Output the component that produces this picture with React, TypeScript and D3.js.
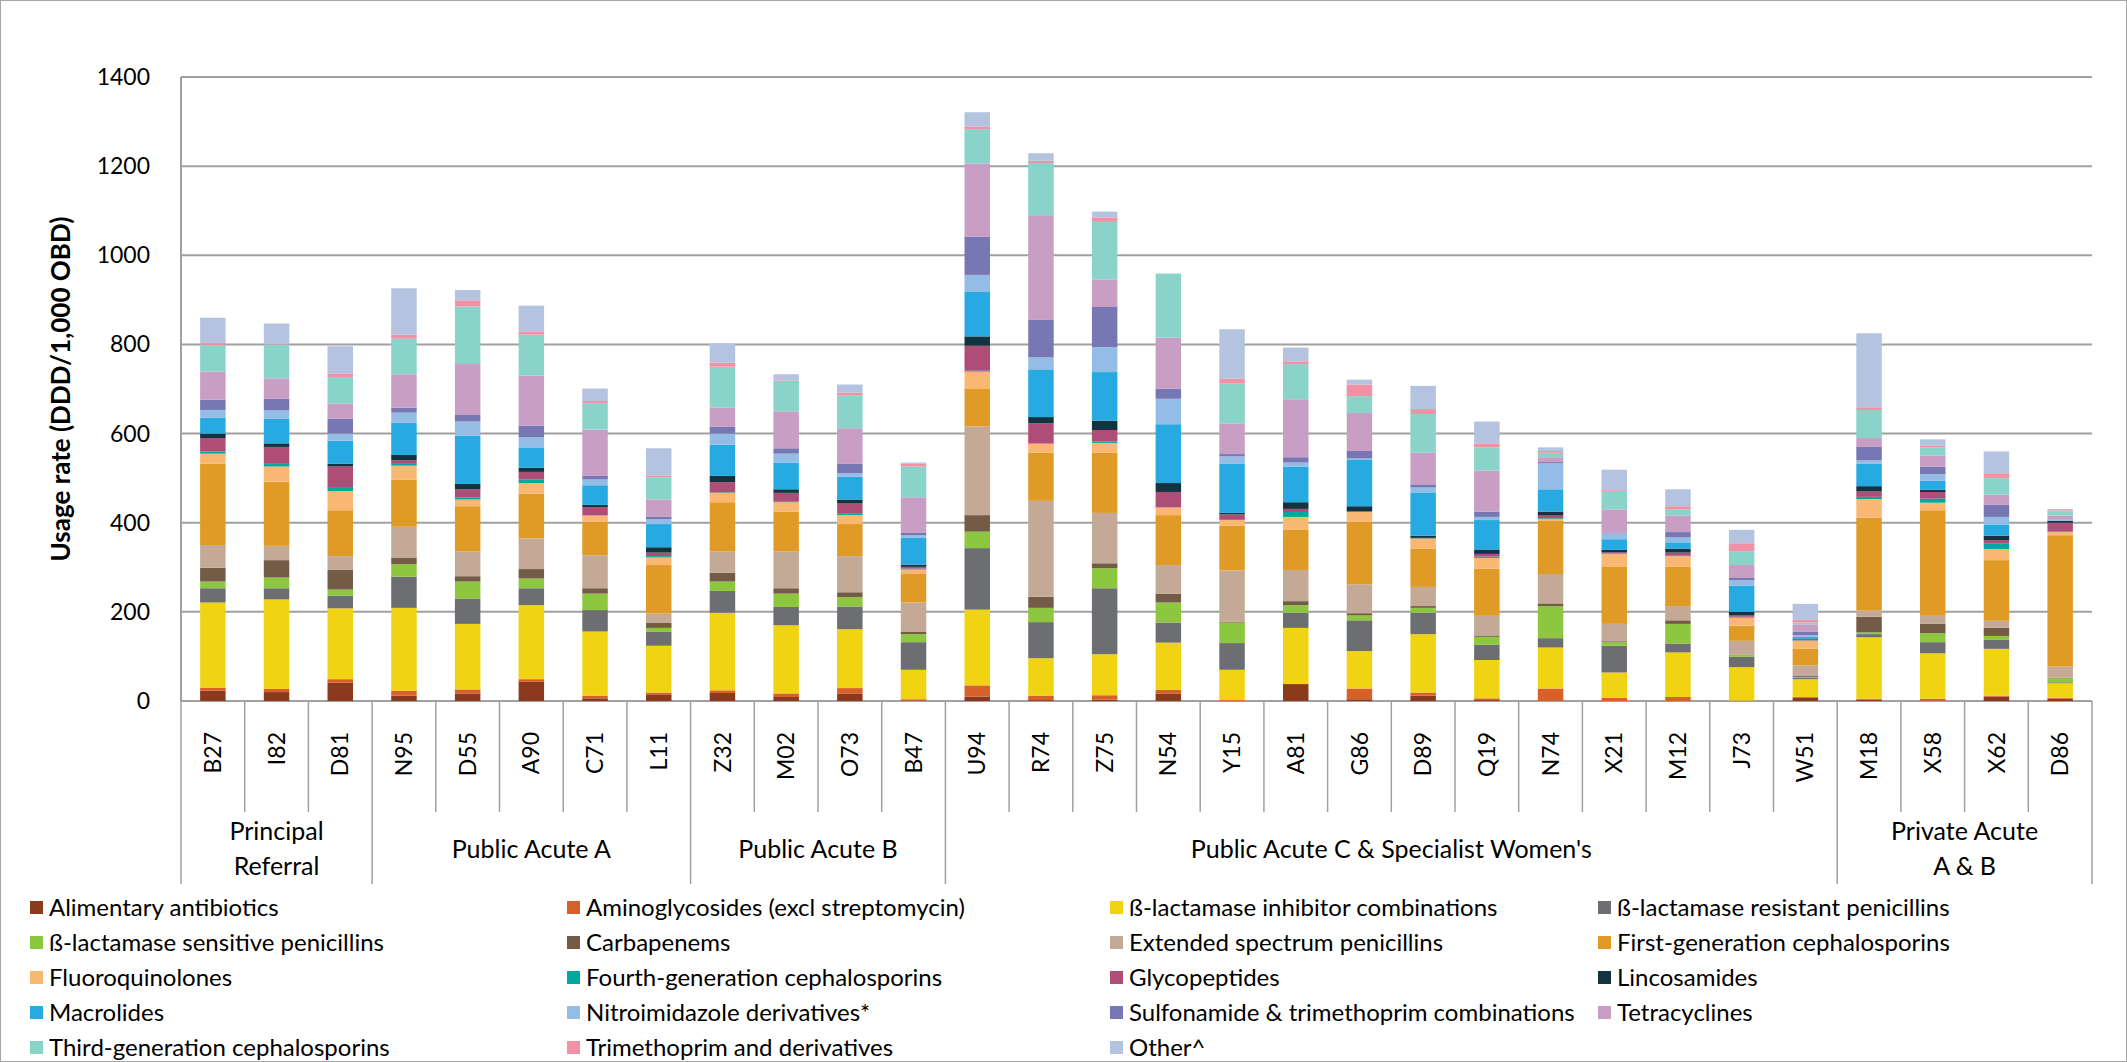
import React from 'react';
import * as d3 from 'd3';

const categories = ['B27','I82','D81','N95','D55','A90','C71','L11','Z32','M02','O73','B47','U94','R74','Z75','N54','Y15','A81','G86','D89','Q19','N74','X21','M12','J73','W51','M18','X58','X62','D86'];

const groupNames = [['Principal','Referral'],['Public Acute A'],['Public Acute B'],["Public Acute C & Specialist Women's"],['Private Acute','A & B']];
const groupSizes = [3,5,4,14,4];

const seriesNames = ['Alimentary antibiotics','Aminoglycosides (excl streptomycin)','ß-lactamase inhibitor combinations','ß-lactamase resistant penicillins','ß-lactamase sensitive penicillins','Carbapenems','Extended spectrum penicillins','First-generation cephalosporins','Fluoroquinolones','Fourth-generation cephalosporins','Glycopeptides','Lincosamides','Macrolides','Nitroimidazole derivatives*','Sulfonamide & trimethoprim combinations','Tetracyclines','Third-generation cephalosporins','Trimethoprim and derivatives','Other^'];

const seriesColors = ['#8B3A1E','#D8612A','#F0D413','#6D6E71','#8DC63F','#735B45','#C4AA96','#E09A26','#F9B872','#00A99D','#AE4E77','#12333F','#27AAE1','#95BCE4','#7778B3','#C89EC4','#8AD3C9','#F290A5','#B4C3DF'];

const alimentary = [23,20,41,12,17,43,6,15,18,9,17,1,10,2,3,17,0,38,4,12,2,0,0,0,0,8,3,1,10,5];
const aminoglycosides = [7,7,8,11,9,6,6,4,6,8,12,3,25,10,10,8,2,0,24,7,4,28,7,9,1,1,2,4,2,2];
const blInhibitor = [191,201,159,186,147,166,144,105,174,153,132,66,170,84,92,106,68,126,84,131,86,92,57,100,75,40,138,102,105,33];
const blResistant = [32,25,28,70,57,38,48,32,49,41,51,62,138,81,148,45,60,34,69,48,34,21,60,20,23,3,7,25,21,2];
const blSensitive = [15,24,14,28,38,22,37,8,21,30,21,18,37,32,45,45,46,17,11,11,18,72,8,44,4,2,4,20,8,9];
const carbapenems = [31,39,44,15,12,21,12,12,20,12,11,6,37,25,11,20,2,9,5,4,3,6,2,8,1,2,35,21,18,1];
const extSpectrum = [51,32,31,69,56,69,74,20,48,83,81,65,199,215,113,64,115,70,65,43,44,66,39,32,31,24,14,18,16,25];
const firstGen = [182,144,103,106,101,100,75,109,110,89,72,64,84,108,135,112,100,91,140,86,106,119,129,88,34,37,208,237,136,295];
const fluoroquinolones = [23,34,43,31,15,24,14,17,21,21,20,10,39,20,22,17,13,28,23,22,24,4,28,24,18,18,42,17,25,7];
const fourthGen = [5,6,9,4,5,8,1,3,1,1,3,2,2,1,3,1,2,11,0,1,3,2,1,2,2,1,5,9,12,1];
const glycopeptides = [30,38,46,8,18,17,18,8,23,20,23,4,56,45,26,34,11,7,0,1,6,6,3,6,4,2,12,15,8,20];
const lincosamides = [10,8,6,12,12,9,5,12,14,8,9,5,21,14,21,20,3,15,12,5,10,9,5,9,7,2,12,5,10,4];
const macrolides = [36,55,52,72,108,46,44,52,70,60,51,60,101,107,109,132,110,80,105,97,66,50,24,14,59,4,50,20,25,1];
const nitroimidazole = [17,19,16,23,32,23,13,11,25,20,8,6,37,27,56,57,17,9,2,11,7,58,13,11,12,4,8,15,17,1];
const sulfonamide = [23,26,33,11,16,26,9,6,15,12,21,5,86,84,90,23,5,12,17,7,12,3,2,12,5,7,30,17,27,1];
const tetracyclines = [63,46,34,75,113,112,103,38,43,83,80,80,164,235,62,114,69,130,85,71,92,11,52,37,29,17,20,25,23,9];
const thirdGen = [60,76,60,80,129,92,59,50,92,66,73,69,77,117,129,144,89,79,38,87,52,10,41,14,31,4,63,18,37,9];
const trimethoprim = [4,1,8,9,14,6,5,4,9,3,7,6,6,5,9,0,11,6,26,11,9,4,2,7,18,6,6,4,11,3];
const other = [57,46,61,104,23,59,28,61,43,14,18,3,32,17,14,0,111,31,11,52,49,8,46,38,30,36,166,14,49,3];

const seriesValues = [alimentary,aminoglycosides,blInhibitor,blResistant,blSensitive,carbapenems,extSpectrum,firstGen,fluoroquinolones,fourthGen,glycopeptides,lincosamides,macrolides,nitroimidazole,sulfonamide,tetracyclines,thirdGen,trimethoprim,other];

const yTicks = [0,200,400,600,800,1000,1200,1400];

const FONT = "Lato, 'Open Sans', sans-serif";

export default function App() {
  const W = 2127, H = 1062;
  const left = 181, right = 2092, y0 = 701, yTop = 77;
  const x = d3.scaleBand<string>().domain(categories).range([left, right]).paddingInner(0.6).paddingOuter(0.3);
  const xb = d3.scaleLinear().domain([0, categories.length]).range([left, right]);
  const y = d3.scaleLinear().domain([0, 1400]).range([y0, yTop]);

  const table = categories.map((c, i) => {
    const o: any = { cat: c };
    seriesNames.forEach((s, j) => { o[s] = seriesValues[j][i]; });
    return o;
  });
  const stacked = d3.stack<any>().keys(seriesNames)(table);

  const groupBounds: number[] = [0];
  groupSizes.forEach((s) => groupBounds.push(groupBounds[groupBounds.length - 1] + s));

  const legendCols = [30, 567, 1110, 1598];
  const legendRows = [908, 943, 978, 1013, 1048];

  return (
    <svg width={W} height={H} style={{ position: 'absolute', left: 0, top: 0, background: '#fff' }} fontFamily={FONT}>
      <rect x={0.5} y={0.5} width={W - 1} height={H - 1} fill="#fff" stroke="#A6A6A6" strokeWidth={1} />
      {yTicks.map((t) => (
        <line key={'g' + t} x1={left} x2={right} y1={y(t)} y2={y(t)} stroke="#A0A0A0" strokeWidth={2} />
      ))}
      <line x1={left} x2={left} y1={yTop} y2={y0} stroke="#A0A0A0" strokeWidth={2} />
      {yTicks.map((t) => (
        <text key={'t' + t} x={150} y={y(t)} dy="0.35em" textAnchor="end" fontSize={23} fill="#000">{t}</text>
      ))}
      <text transform={`translate(61,${(y0 + yTop) / 2}) rotate(-90)`} textAnchor="middle" dy="0.35em" fontSize={26} fontWeight="bold" fill="#000">Usage rate (DDD/1,000 OBD)</text>

      {stacked.map((layer, j) => (
        <g key={'s' + j} fill={seriesColors[j]}>
          {layer.map((d, i) => (
            <rect key={i} x={x(categories[i])} width={x.bandwidth()} y={y(d[1])} height={Math.max(0, y(d[0]) - y(d[1]))} />
          ))}
        </g>
      ))}

      {d3.range(categories.length + 1).map((k) => {
        const isGroup = groupBounds.includes(k);
        return <line key={'b' + k} x1={xb(k)} x2={xb(k)} y1={y0} y2={isGroup ? 884 : 812} stroke="#A0A0A0" strokeWidth={1.5} />;
      })}
      {categories.map((c) => (
        <text key={'c' + c} transform={`translate(${(x(c) as number) + x.bandwidth() / 2},732) rotate(-90)`} textAnchor="end" dy="0.35em" fontSize={23} fill="#000">{c}</text>
      ))}
      {groupNames.map((g, gi) => {
        const cx = (xb(groupBounds[gi]) + xb(groupBounds[gi + 1])) / 2;
        if (g.length === 1) {
          return <text key={'gn' + gi} x={cx} y={849} dy="0.35em" textAnchor="middle" fontSize={25} fill="#000">{g[0]}</text>;
        }
        return (
          <g key={'gn' + gi}>
            <text x={cx} y={831} dy="0.35em" textAnchor="middle" fontSize={25} fill="#000">{g[0]}</text>
            <text x={cx} y={866} dy="0.35em" textAnchor="middle" fontSize={25} fill="#000">{g[1]}</text>
          </g>
        );
      })}

      {seriesNames.map((s, j) => {
        const col = j % 4, row = Math.floor(j / 4);
        const lx = legendCols[col], ly = legendRows[row];
        return (
          <g key={'l' + j}>
            <rect x={lx} y={ly - 7} width={13} height={13} fill={seriesColors[j]} />
            <text x={lx + 19} y={ly} dy="0.35em" fontSize={24} fill="#000">{s}</text>
          </g>
        );
      })}
    </svg>
  );
}
